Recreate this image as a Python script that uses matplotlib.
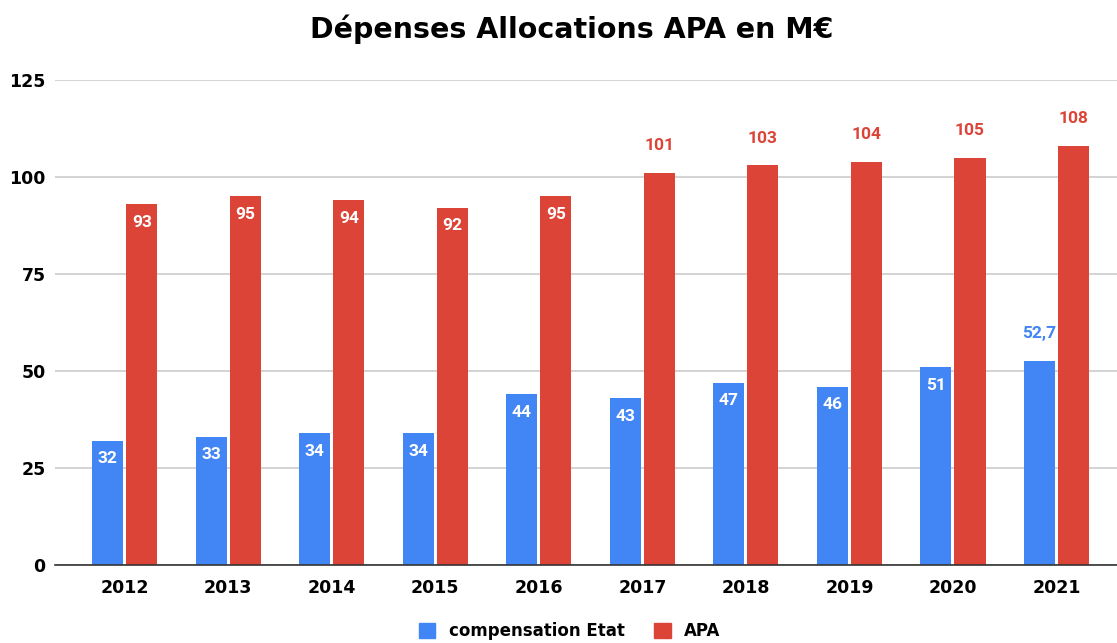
import numpy as np
import matplotlib.pyplot as plt
from matplotlib.patches import Patch

years = ['2012', '2013', '2014', '2015', '2016', '2017', '2018', '2019', '2020', '2021']
compensation = [32, 33, 34, 34, 44, 43, 47, 46, 51, 52.7]
apa = [93, 95, 94, 92, 95, 101, 103, 104, 105, 108]
comp_labels = ['32', '33', '34', '34', '44', '43', '47', '46', '51', '52,7']
apa_labels = ['93', '95', '94', '92', '95', '101', '103', '104', '105', '108']
# label drawn inside the bar top or above it
comp_inside = [True] * 9 + [False]
apa_inside = [True] * 5 + [False] * 5

blue = '#4285F4'
red = '#DB4437'

fig = plt.figure(figsize=(11.17, 6.43), dpi=100)
ax = fig.add_axes([0.049, 0.121, 0.951, 0.7546])

x = np.arange(len(years))
w = 0.3
gap = 0.015
ax.bar(x - w / 2 - gap, compensation, w, color=blue, zorder=3)
ax.bar(x + w / 2 + gap, apa, w, color=red, zorder=3)

label_font = dict(family='Roboto', fontweight='bold', fontsize=12.5, ha='center', va='center', zorder=4)
for i in range(len(years)):
    if comp_inside[i]:
        ax.text(x[i] - w / 2 - gap, compensation[i] - 4.6, comp_labels[i], color='white', **label_font)
    else:
        ax.text(x[i] - w / 2 - gap, compensation[i] + 7, comp_labels[i], color=blue, **label_font)
    if apa_inside[i]:
        ax.text(x[i] + w / 2 + gap, apa[i] - 4.6, apa_labels[i], color='white', **label_font)
    else:
        ax.text(x[i] + w / 2 + gap, apa[i] + 7, apa_labels[i], color=red, **label_font)

ax.set_xlim(-0.676, 9.585)
ax.set_ylim(0, 125)
ax.set_yticks([0, 25, 50, 75, 100, 125])
ax.set_xticks(x)
ax.set_xticklabels(years)
ax.tick_params(axis='both', length=0, labelsize=12.5)
ax.tick_params(axis='x', pad=10)
ax.tick_params(axis='y', pad=6.5)
for lbl in ax.get_xticklabels() + ax.get_yticklabels():
    lbl.set_fontweight('bold')
ax.grid(axis='y', color='#cccccc', linewidth=1.2, zorder=0)
for s in ['top', 'right', 'left']:
    ax.spines[s].set_visible(False)
ax.spines['bottom'].set_color('#333333')
ax.spines['bottom'].set_linewidth(1.2)
ax.spines['bottom'].set_zorder(5)

fig.text(0.512, 0.955, 'Dépenses Allocations APA en M€', ha='center', va='center',
         fontsize=20.5, fontweight='bold')

handles = [Patch(color=blue), Patch(color=red)]
fig.legend(handles, ['compensation Etat', 'APA'], loc='center', bbox_to_anchor=(0.51, 0.018),
           ncol=2, frameon=False, handlelength=1.0, handleheight=1.0, columnspacing=1.8,
           prop={'weight': 'bold', 'size': 12})

fig.savefig('out.png', dpi=100)
